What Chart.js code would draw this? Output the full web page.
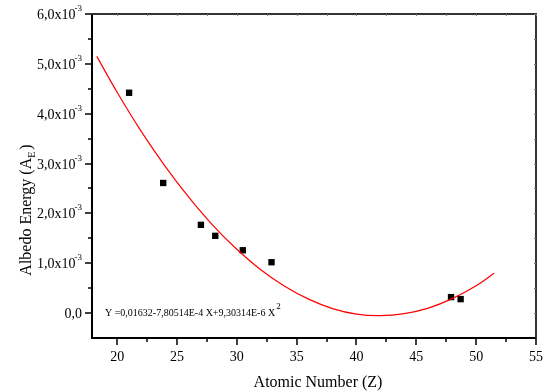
<!DOCTYPE html>
<html>
<head>
<meta charset="utf-8">
<script src="https://cdn.jsdelivr.net/npm/chart.js@4/dist/chart.umd.min.js"></script>
<style>
  html, body { margin: 0; padding: 0; background: #fff; }
  #wrap { width: 547px; height: 392px; }
</style>
</head>
<body>
<div id="wrap"><canvas id="albedoChart"></canvas></div>
<script>
// measured points
const atomicNumbers = [21.0, 23.85, 27.0, 28.2, 30.5, 32.9, 47.9, 48.7];
const albedoEnergy = [0.00442, 0.00261, 0.00177, 0.00155, 0.00126, 0.00102, 0.00032, 0.00028];

// fitted parabola
const fitX = [18.3, 20, 22, 24, 26, 28, 30, 32, 34, 36, 38, 40, 42, 44, 46, 48, 50, 51.5];
const fitY = [0.00515, 0.00443, 0.00365, 0.00295, 0.00232, 0.00176, 0.00128, 0.00087, 0.00054,
              0.00028, 0.00009, -0.00002, -0.00005, -0.00001, 0.00010, 0.00029, 0.00055, 0.00080];

const xMajorTicks = [20, 25, 30, 35, 40, 45, 50, 55];
const xMinorTicks = [22.5, 27.5, 32.5, 37.5, 42.5, 47.5, 52.5];
const yMajorTicks = [0, 0.001, 0.002, 0.003, 0.004, 0.005, 0.006];
const yMinorTicks = [0.0005, 0.0015, 0.0025, 0.0035, 0.0045, 0.0055];
const yTickMantissa = ['0,0', '1,0', '2,0', '3,0', '4,0', '5,0', '6,0'];

const fitEquation = 'Y =0,01632-7,80514E-4 X+9,30314E-6 X';
const serif = '"Liberation Serif", "Times New Roman", serif';

const toXY = (xs, ys) => xs.map((x, i) => ({ x: x, y: ys[i] }));

// draws frame, ticks, labels and titles like the Origin plot
const axesPlugin = {
    id: 'originAxes',
    afterDraw(chart) {
        const ctx = chart.ctx;
        const area = chart.chartArea;
        const xs = chart.scales.x;
        const ys = chart.scales.y;
        ctx.save();

        // frame
        ctx.strokeStyle = '#000';
        ctx.lineWidth = 2;
        ctx.beginPath();
        ctx.moveTo(area.left, area.top);
        ctx.lineTo(area.left, area.bottom);
        ctx.lineTo(area.right, area.bottom);
        ctx.stroke();
        ctx.strokeStyle = '#333';
        ctx.beginPath();
        ctx.moveTo(area.left, area.top);
        ctx.lineTo(area.right, area.top);
        ctx.lineTo(area.right, area.bottom);
        ctx.stroke();

        // x ticks
        ctx.strokeStyle = '#000';
        ctx.lineWidth = 1.5;
        xMajorTicks.forEach(v => {
            const px = Math.round(xs.getPixelForValue(v));
            ctx.beginPath();
            ctx.moveTo(px, area.bottom);
            ctx.lineTo(px, area.bottom + 7);
            ctx.stroke();
        });
        xMinorTicks.forEach(v => {
            const px = Math.round(xs.getPixelForValue(v));
            ctx.beginPath();
            ctx.moveTo(px, area.bottom);
            ctx.lineTo(px, area.bottom + 4);
            ctx.stroke();
        });
        // y ticks
        yMajorTicks.forEach(v => {
            const py = Math.round(ys.getPixelForValue(v));
            ctx.beginPath();
            ctx.moveTo(area.left, py);
            ctx.lineTo(area.left - 7, py);
            ctx.stroke();
        });
        yMinorTicks.forEach(v => {
            const py = Math.round(ys.getPixelForValue(v));
            ctx.beginPath();
            ctx.moveTo(area.left, py);
            ctx.lineTo(area.left - 4, py);
            ctx.stroke();
        });

        // tiny ticks on top/right
        ctx.strokeStyle = '#777';
        ctx.lineWidth = 1;
        xMajorTicks.concat(xMinorTicks).forEach(v => {
            const px = Math.round(xs.getPixelForValue(v)) + 0.5;
            ctx.beginPath();
            ctx.moveTo(px, area.top);
            ctx.lineTo(px, area.top + 2);
            ctx.stroke();
        });
        yMajorTicks.concat(yMinorTicks).forEach(v => {
            const py = Math.round(ys.getPixelForValue(v)) + 0.5;
            ctx.beginPath();
            ctx.moveTo(area.right, py);
            ctx.lineTo(area.right - 2, py);
            ctx.stroke();
        });

        // x labels
        ctx.fillStyle = '#000';
        ctx.font = '14px ' + serif;
        ctx.textAlign = 'center';
        ctx.textBaseline = 'alphabetic';
        xMajorTicks.forEach(v => {
            ctx.fillText(String(v), xs.getPixelForValue(v), area.bottom + 23);
        });

        // y labels with superscript exponent
        yMajorTicks.forEach((v, i) => {
            const py = ys.getPixelForValue(v);
            const rightEdge = area.left - 10;
            ctx.textAlign = 'right';
            if (v === 0) {
                ctx.font = '14px ' + serif;
                ctx.fillText(yTickMantissa[i], rightEdge, py + 5);
            } else {
                ctx.font = '9px ' + serif;
                const supW = ctx.measureText('-3').width;
                ctx.fillText('-3', rightEdge, py - 3);
                ctx.font = '14px ' + serif;
                ctx.fillText(yTickMantissa[i] + 'x10', rightEdge - supW + 1, py + 5);
            }
        });

        // axis titles
        ctx.font = '16px ' + serif;
        ctx.textAlign = 'center';
        ctx.fillText('Atomic Number (Z)', (area.left + area.right) / 2 + 4, 387);

        ctx.save();
        ctx.translate(31, 210);
        ctx.rotate(-Math.PI / 2);
        ctx.font = '16px ' + serif;
        const main = 'Albedo Energy (A';
        const wMain = ctx.measureText(main).width;
        ctx.font = '10px ' + serif;
        const wSub = ctx.measureText('E').width;
        ctx.font = '16px ' + serif;
        const wClose = ctx.measureText(')').width;
        const total = wMain + wSub + wClose + 2;
        let x0 = -total / 2;
        ctx.textAlign = 'left';
        ctx.fillText(main, x0, 0);
        ctx.font = '10px ' + serif;
        ctx.fillText('E', x0 + wMain, 4);
        ctx.font = '16px ' + serif;
        ctx.fillText(')', x0 + wMain + wSub + 2, 0);
        ctx.restore();

        // fit equation
        ctx.font = '10px ' + serif;
        ctx.textAlign = 'left';
        const eqX = area.left + 13;
        const eqY = ys.getPixelForValue(0) + 3;
        ctx.fillText(fitEquation, eqX, eqY);
        const eqW = ctx.measureText(fitEquation).width;
        ctx.font = '9px ' + serif;
        ctx.fillText('2', eqX + eqW + 1, eqY - 7);

        ctx.restore();
    }
};

document.addEventListener('DOMContentLoaded', () => {
    const canvas = document.getElementById('albedoChart');
    new Chart(canvas.getContext('2d'), {
        type: 'scatter',
        data: {
            datasets: [
                {
                    label: 'Fit',
                    data: toXY(fitX, fitY),
                    showLine: true,
                    borderColor: '#ff0000',
                    borderWidth: 1.2,
                    pointRadius: 0,
                    tension: 0.4,
                    fill: false
                },
                {
                    label: 'Albedo',
                    data: toXY(atomicNumbers, albedoEnergy),
                    pointStyle: 'rect',
                    pointRadius: 4.5,
                    backgroundColor: '#000',
                    borderColor: '#000',
                    borderWidth: 0
                }
            ]
        },
        options: {
            responsive: true,
            maintainAspectRatio: false,
            animation: false,
            layout: { padding: { top: 14, right: 11, left: 0, bottom: 0 } },
            plugins: {
                legend: { display: false },
                tooltip: { enabled: false }
            },
            scales: {
                x: {
                    type: 'linear',
                    min: 17.9,
                    max: 55,
                    grid: { display: false },
                    border: { display: false },
                    ticks: { display: false },
                    afterFit: scale => { scale.height = 54; }
                },
                y: {
                    type: 'linear',
                    min: -0.0005,
                    max: 0.006,
                    grid: { display: false },
                    border: { display: false },
                    ticks: { display: false },
                    afterFit: scale => { scale.width = 92; }
                }
            }
        },
        plugins: [axesPlugin]
    });
});
</script>
</body>
</html>
